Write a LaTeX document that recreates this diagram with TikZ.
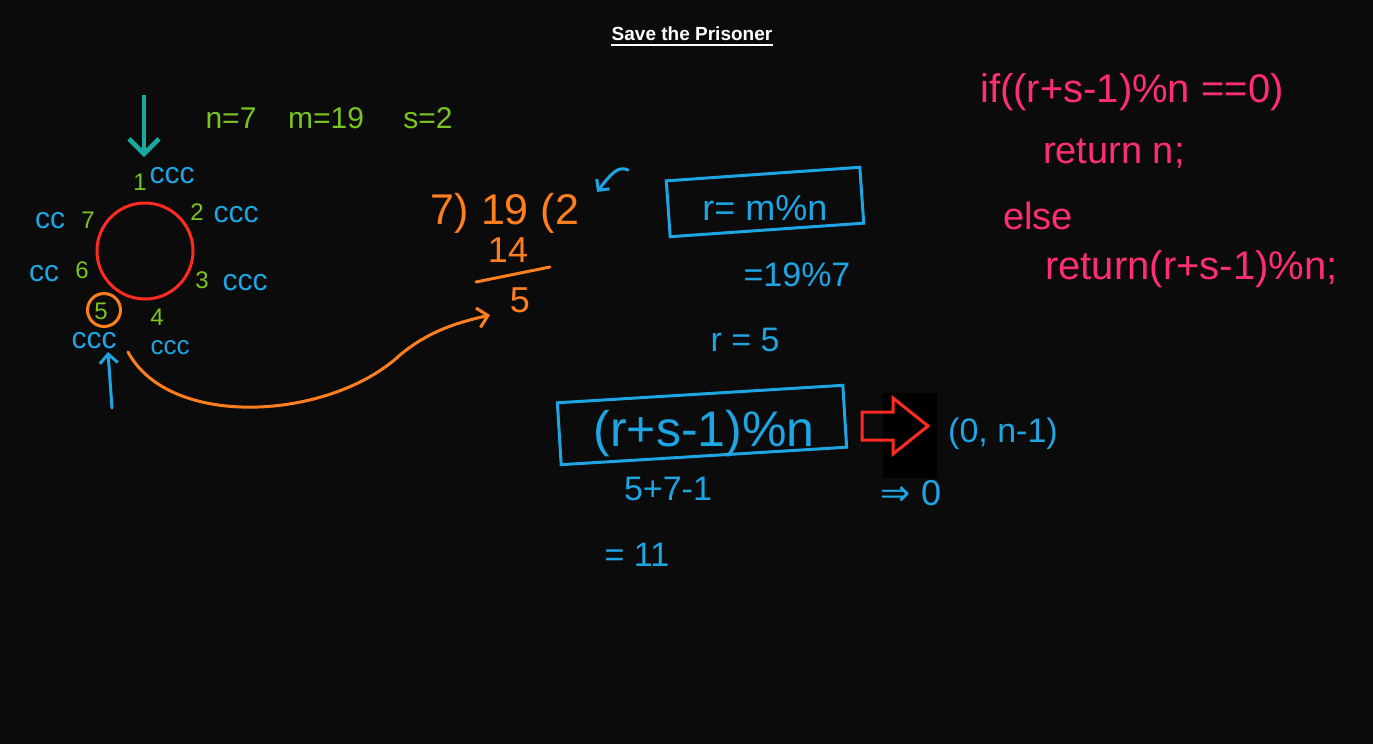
\documentclass[tikz,border=0pt]{standalone}
\usepackage{fontspec}
\setmainfont{Liberation Sans}
\newfontfamily\dejavu{DejaVu Sans}
\usetikzlibrary{arrows.meta}
\definecolor{bg}{HTML}{0B0B0B}
\definecolor{hblue}{HTML}{1DA6E3}
\definecolor{hgreen}{HTML}{7BC41E}
\definecolor{horange}{HTML}{FF7F1F}
\definecolor{hred}{HTML}{FF2A22}
\definecolor{hpink}{HTML}{FF2E72}
\definecolor{hteal}{HTML}{16AAA0}
\newcommand{\fs}[1]{\fontsize{#1}{#1}\selectfont}
\tikzset{
  lbl/.style={inner sep=0pt, anchor=base},
  bluetxt/.style={lbl, text=hblue},
  greentxt/.style={lbl, text=hgreen},
  orangetxt/.style={lbl, text=horange},
  pinktxt/.style={lbl, text=hpink, anchor=base west},
  ink/.style={line width=3pt, line cap=round, line join=round},
}
\begin{document}
\begin{tikzpicture}[x=1pt,y=-1pt]
\fill[bg] (0,0) rectangle (1373,744);
\useasboundingbox (0,0) rectangle (1373,744);

% title
\node[lbl, text=white, font=\bfseries\fs{19}] (title) at (692,40) {Save the Prisoner};
\draw[white, line width=1.6pt] (611,45) -- (773,45);

% given
\node[greentxt, font=\fs{30}] (nv) at (231,128) {n=7};
\node[greentxt, font=\fs{30}] (mv) at (326,128) {m=19};
\node[greentxt, font=\fs{30}] (sv) at (428,128) {s=2};

% circle of prisoners
\node[draw=hred, line width=3pt, circle, minimum size=96pt, inner sep=0pt] (ring) at (145,251) {};
\coordinate (tealstart) at (144,95);
\coordinate (tealend) at (144,157);
\draw[hteal, line width=4.5pt, -{Straight Barb[width=30pt,length=15pt,line width=4.5pt]}] (tealstart) -- (tealend);

\node[greentxt, font=\fs{24}] (p1) at (140,190) {1};
\node[bluetxt, font=\fs{30}] (c1) at (172,183) {ccc};
\node[greentxt, font=\fs{24}] (p2) at (197,220) {2};
\node[bluetxt, font=\fs{30}] (c2) at (236,222) {ccc};
\node[greentxt, font=\fs{24}] (p7) at (88,228) {7};
\node[bluetxt, font=\fs{30}] (c7) at (50,228) {cc};
\node[greentxt, font=\fs{24}] (p6) at (82,278) {6};
\node[bluetxt, font=\fs{30}] (c6) at (44,281) {cc};
\node[greentxt, font=\fs{24}] (p3) at (202,288) {3};
\node[bluetxt, font=\fs{30}] (c3) at (245,290) {ccc};
\node[greentxt, font=\fs{24}] (p4) at (157,325) {4};
\node[bluetxt, font=\fs{26}] (c4) at (170,354) {ccc};
\node[greentxt, font=\fs{24}] (p5) at (101,319) {5};
\node[draw=horange, line width=3pt, circle, minimum size=33pt, inner sep=0pt] (ring5) at (104,310) {};
\node[bluetxt, font=\fs{30}] (c5) at (94,348) {ccc};
\coordinate (bluestart) at (112,408);
\coordinate (blueend) at (108,352);
\draw[hblue, ink, -{Straight Barb[width=18pt,length=9pt]}] (bluestart) -- (blueend);

% long division
\node[orangetxt, font=\fs{43}] (div) at (505,224) {7) 19 (2};
\node[orangetxt, font=\fs{36}] (fourteen) at (508,262) {14};
\coordinate (barA) at (476,282);
\coordinate (barB) at (550,267);
\draw[horange, ink] (barA) -- (barB);
\node[orangetxt, font=\fs{36}] (rem) at (520,312) {5};
\coordinate (curvestart) at (128,352);
\coordinate (curveend) at (490,315);
\draw[horange, ink, -{Straight Barb[width=20pt,length=10pt]}] (curvestart) .. controls (170,430) and (330,420) .. (400,355) .. controls (430,330) and (460,322) .. (curveend);
\coordinate (qa) at (628,170);
\coordinate (qb) at (597,192);
\draw[hblue, ink, -{Straight Barb[width=16pt,length=8pt]}] (qa) .. controls (618,165) and (610,175) .. (qb);

% r = m % n
\node[draw=hblue, line width=3pt, rotate=4, minimum width=194pt, minimum height=56pt, inner sep=0pt] (rbox) at (765,202) {};
\node[bluetxt, font=\fs{36}] (rdef) at (765,220) {r= m\%n};
\node[bluetxt, font=\fs{34}] (rcalc) at (797,286) {=19\%7};
\node[bluetxt, font=\fs{34}] (rval) at (745,351) {r = 5};

% main formula
\node[draw=hblue, line width=3pt, rotate=3.5, minimum width=286pt, minimum height=62pt, inner sep=0pt] (fbox) at (702,425) {};
\node[bluetxt, font=\fs{50}] (formula) at (704,446) {(r+s-1)\%n};
\node[bluetxt, font=\fs{34}] (sum) at (668,500) {5+7-1};
\node[bluetxt, font=\fs{34}] (eleven) at (637,566) {= 11};

% arrow to range
\fill[black] (883,393) rectangle (937,478);
\coordinate (a1) at (862,412);
\coordinate (a2) at (893,412);
\coordinate (a3) at (893,398);
\coordinate (tip) at (928,426);
\coordinate (a5) at (893,454);
\coordinate (a6) at (893,440);
\coordinate (a7) at (862,440);
\draw[hred, line width=3pt, line join=miter] (a1) -- (a2) -- (a3) -- (tip) -- (a5) -- (a6) -- (a7) -- cycle;
\node[bluetxt, font=\fs{34}] (range) at (1003,442) {(0, n-1)};
\node[bluetxt, font=\fs{36}] (zero) at (911,505) {{\dejavu ⇒} 0};

% code
\node[pinktxt, font=\fs{40}] (code1) at (980,102) {if((r+s-1)\%n ==0)};
\node[pinktxt, font=\fs{38}] (code2) at (1043,163) {return n;};
\node[pinktxt, font=\fs{38}] (code3) at (1003,229) {else};
\node[pinktxt, font=\fs{40}] (code4) at (1045,279) {return(r+s-1)\%n;};
\end{tikzpicture}
\end{document}
